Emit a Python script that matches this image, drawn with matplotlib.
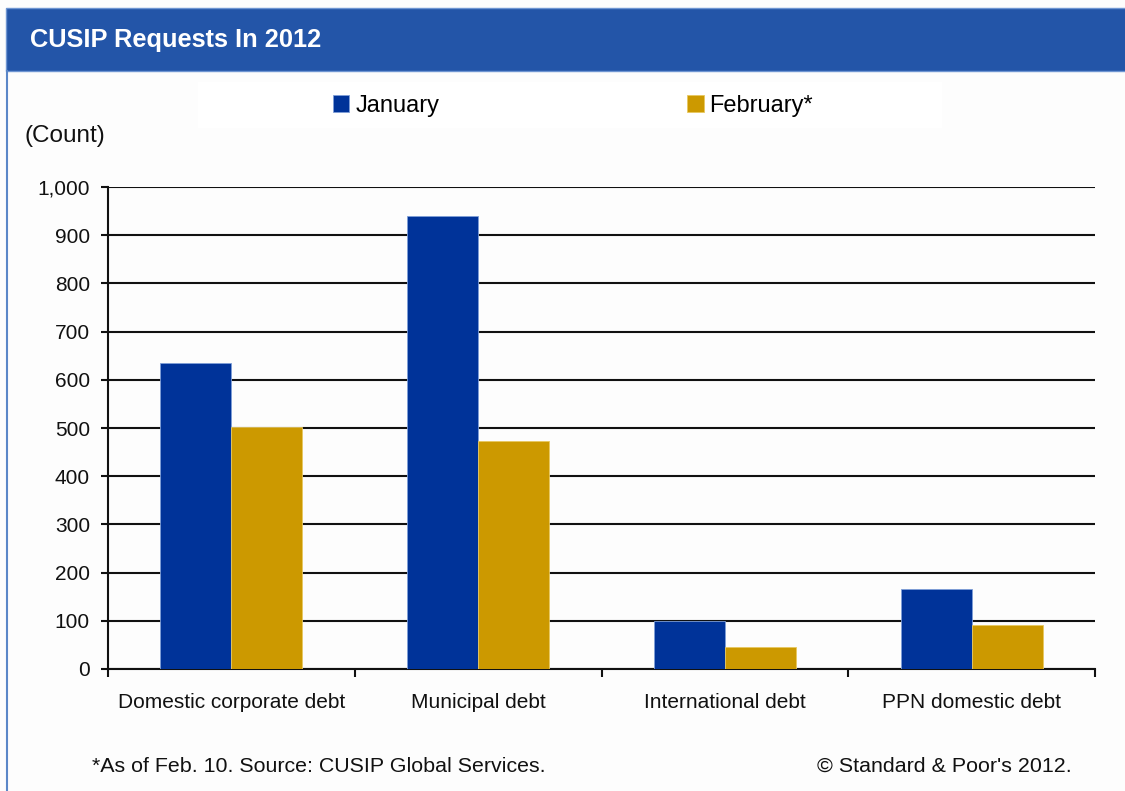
import matplotlib
matplotlib.use('Agg')
import matplotlib.pyplot as plt
from matplotlib.patches import Rectangle
from matplotlib.ticker import FuncFormatter, FixedLocator
import numpy as np

plt.rcParams['font.family'] = ['Liberation Sans', 'DejaVu Sans']

categories = ['Domestic corporate debt', 'Municipal debt',
              'International debt', 'PPN domestic debt']
january = [635, 940, 100, 166]
february = [503, 474, 46, 92]
series_names = ['January', 'February*']
y_ticks = [0, 100, 200, 300, 400, 500, 600, 700, 800, 900, 1000]

blue = '#003399'
gold = '#CC9900'
header_blue = '#2355A8'
ink = '#111111'

W, H = 1125, 791

fig = plt.figure(figsize=(W / 100, H / 100), dpi=100)
fig.patch.set_facecolor('#FDFDFD')

# header band and outer frame
fig.patches.append(Rectangle((6 / W, 1 - 71 / H), 1, 63 / H,
                             transform=fig.transFigure, facecolor=header_blue,
                             edgecolor='#6E95D2', linewidth=1.0, zorder=0))
fig.lines.append(plt.Line2D([7 / W, 7 / W], [0, 1 - 71 / H],
                            transform=fig.transFigure, color='#5B87C8', linewidth=1.5))
fig.text(30 / W, 1 - 47 / H, 'CUSIP Requests In 2012', color='white',
         fontsize=18.3, fontweight='bold', va='baseline', ha='left')

# faint legend panel
fig.patches.append(Rectangle((198 / W, 1 - 128 / H), 744 / W, 46 / H,
                             transform=fig.transFigure, facecolor='white',
                             edgecolor='none', zorder=0))

ax = fig.add_axes([108 / W, 1 - 669 / H, (1095 - 108) / W, (669 - 187) / H])
ax.set_facecolor('#FDFDFD')

x = np.arange(len(categories))
width = 0.288
ax.bar(x - width / 2, january, width, color=blue, edgecolor='#7F9FD8',
       linewidth=0.6, zorder=3, label=series_names[0])
ax.bar(x + width / 2, february, width, color=gold, edgecolor='#E8C860',
       linewidth=0.6, zorder=3, label=series_names[1])

ax.set_xlim(-0.5, len(categories) - 0.5)
ax.set_ylim(0, 1000)
ax.set_yticks(y_ticks)
ax.yaxis.set_major_formatter(FuncFormatter(lambda v, p: f'{int(v):,}'))
ax.yaxis.grid(True, color=ink, linewidth=1.5, zorder=1)
ax.set_axisbelow(True)

ax.set_xticks(x)
ax.set_xticklabels(categories)
ax.xaxis.set_minor_locator(FixedLocator(np.arange(-0.5, len(categories), 1.0)))
ax.tick_params(axis='x', which='major', length=0, pad=17, labelsize=15, colors=ink)
ax.tick_params(axis='x', which='minor', length=6, width=1.5, direction='out', color=ink)
ax.tick_params(axis='y', length=5, width=1.5, direction='out', pad=8,
               labelsize=15, colors=ink)

for side in ['top', 'right']:
    ax.spines[side].set_visible(False)
for side in ['left', 'bottom']:
    ax.spines[side].set_color(ink)
    ax.spines[side].set_linewidth(1.5)

fig.legend(loc='center', bbox_to_anchor=(573 / W, 1 - 106 / H), ncol=2,
           frameon=False, fontsize=17, handlelength=0.7, handleheight=0.7,
           handletextpad=0.25, columnspacing=10.5)

fig.text(25 / W, 1 - 136 / H, '(Count)', fontsize=17.5, va='center', ha='left',
         color=ink)
fig.text(92 / W, 1 - 767 / H, '*As of Feb. 10. Source: CUSIP Global Services.',
         fontsize=15.4, va='center', ha='left', color=ink)
fig.text(1072 / W, 1 - 766 / H, "\u00a9 Standard & Poor's 2012.",
         fontsize=15.4, va='center', ha='right', color=ink)

fig.savefig('out.png', dpi=100, facecolor=fig.get_facecolor())
